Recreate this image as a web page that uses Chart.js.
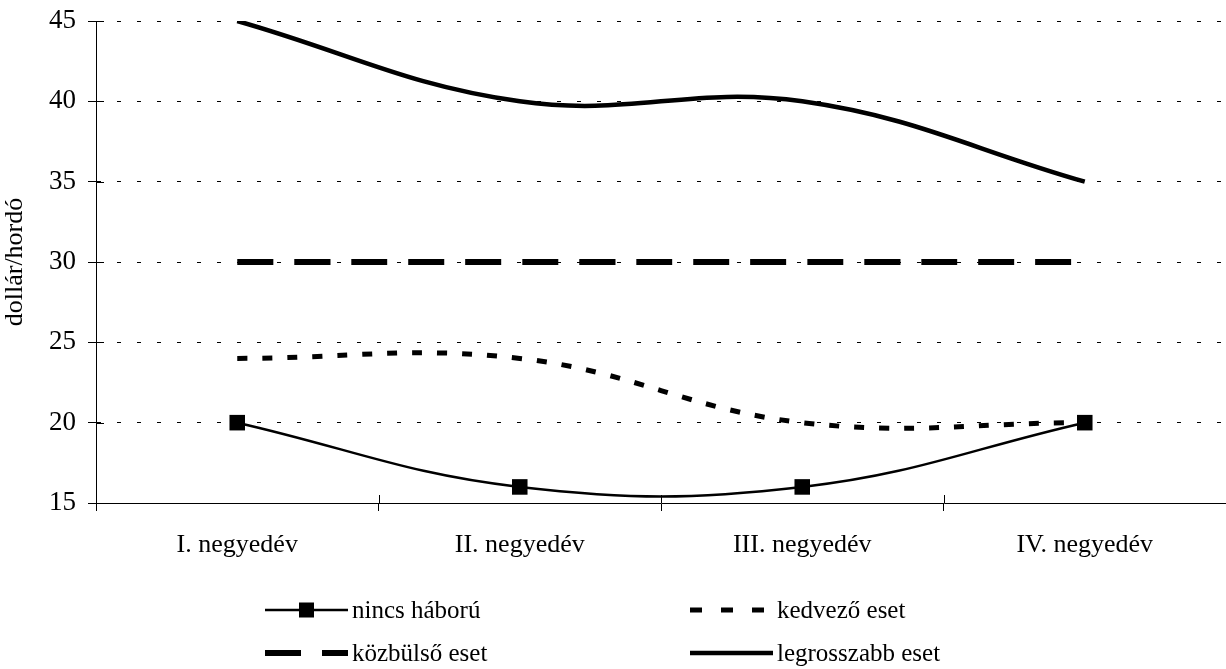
<!DOCTYPE html>
<html>
<head>
<meta charset="utf-8">
<script src="https://cdn.jsdelivr.net/npm/chart.js@4"></script>
<style>
  html, body { margin: 0; padding: 0; background: #fff; overflow: hidden; }
  #oil { display: block; }
</style>
</head>
<body>
<canvas id="oil" width="1226" height="669"></canvas>
<script>
const quarters = ["I. negyedév", "II. negyedév", "III. negyedév", "IV. negyedév"];
const nincsHaboru = [20, 16, 16, 20];
const kedvezoEset = [24, 24, 20, 20];
const kozbulsoEset = [30, 30, 30, 30];
const legrosszabbEset = [45, 40, 40, 35];
const yMin = 15, yMax = 45, yStep = 5;
const yTitle = "dollár/hordó";

const serif = '"Liberation Serif", "Times New Roman", serif';

// legend in two columns under the axis, like the original
const legendPlugin = {
  id: "twoColLegend",
  afterDraw(chart) {
    const ctx = chart.ctx;
    const cols = [265, 690];
    const rows = [610, 653];
    ctx.save();
    chart.data.datasets.forEach((ds, i) => {
      const x0 = cols[i % 2];
      const y = rows[Math.floor(i / 2)];
      ctx.strokeStyle = "#000";
      ctx.lineWidth = ds.borderWidth;
      ctx.setLineDash(ds.legendDash || ds.borderDash || []);
      ctx.beginPath();
      ctx.moveTo(x0, y);
      ctx.lineTo(x0 + 83, y);
      ctx.stroke();
      ctx.setLineDash([]);
      if (ds.pointRadius > 0) {
        ctx.fillStyle = "#000";
        ctx.fillRect(x0 + 34, y - 7.5, 15, 15);
      }
      ctx.fillStyle = "#000";
      ctx.font = "25px " + serif;
      ctx.textBaseline = "middle";
      ctx.fillText(ds.label, x0 + 87, y + 1);
    });

    // short tick marks that cross into the plot area
    const xs = chart.scales.x, ys = chart.scales.y;
    ctx.lineWidth = 1;
    ctx.strokeStyle = "#000";
    ctx.beginPath();
    ys.ticks.forEach(t => {
      const py = Math.round(ys.getPixelForValue(t.value)) + 0.5;
      ctx.moveTo(ys.right, py);
      ctx.lineTo(ys.right + 8, py);
    });
    for (let k = 1; k < quarters.length; k++) {
      const px = Math.round((xs.getPixelForValue(k - 1) + xs.getPixelForValue(k)) / 2) + 0.5;
      ctx.moveTo(px, xs.top);
      ctx.lineTo(px, xs.top - 8);
    }
    ctx.stroke();
    ctx.restore();
  }
};

new Chart(document.getElementById("oil").getContext("2d"), {
  type: "line",
  data: {
    labels: quarters,
    datasets: [
      {
        label: "nincs háború",
        data: nincsHaboru,
        borderColor: "#000",
        backgroundColor: "#000",
        borderWidth: 2.5,
        pointStyle: "rect",
        pointRadius: 11,
        pointBorderWidth: 0,
        tension: 0.4
      },
      {
        label: "kedvező eset",
        data: kedvezoEset,
        borderColor: "#000",
        borderWidth: 5,
        borderDash: [10, 15],
        legendDash: [12, 19],
        pointRadius: 0,
        tension: 0.4
      },
      {
        label: "közbülső eset",
        data: kozbulsoEset,
        borderColor: "#000",
        borderWidth: 6,
        borderDash: [36, 21],
        pointRadius: 0,
        tension: 0.4
      },
      {
        label: "legrosszabb eset",
        data: legrosszabbEset,
        borderColor: "#000",
        borderWidth: 4.5,
        pointRadius: 0,
        tension: 0.4
      }
    ]
  },
  options: {
    responsive: false,
    animation: false,
    events: [],
    layout: { padding: 0, autoPadding: false },
    scales: {
      x: {
        offset: true,
        grid: {
          display: true,
          offset: true,
          drawOnChartArea: false,
          tickLength: 8,
          color: "#000"
        },
        border: { display: true, color: "#000", width: 1 },
        ticks: {
          color: "#000",
          padding: 19,
          maxRotation: 0,
          font: { family: serif, size: 26 }
        },
        afterFit: scale => {
          scale.height = 166;
          scale.paddingLeft = 0;
          scale.paddingRight = 0;
        }
      },
      y: {
        min: yMin,
        max: yMax,
        ticks: {
          stepSize: yStep,
          color: "#000",
          padding: 12,
          font: { family: serif, size: 27 }
        },
        grid: {
          color: "#000",
          tickLength: 8,
          tickColor: "#000"
        },
        border: { display: true, color: "#000", width: 1, dash: [4, 16] },
        title: {
          display: true,
          text: yTitle,
          color: "#000",
          font: { family: serif, size: 26 },
          padding: { top: 0, bottom: 0 }
        },
        afterFit: scale => {
          scale.width = 96;
          scale.paddingTop = 21;
          scale.paddingBottom = 0;
        }
      }
    },
    plugins: {
      legend: { display: false },
      tooltip: { enabled: false }
    }
  },
  plugins: [legendPlugin]
});
</script>
</body>
</html>
